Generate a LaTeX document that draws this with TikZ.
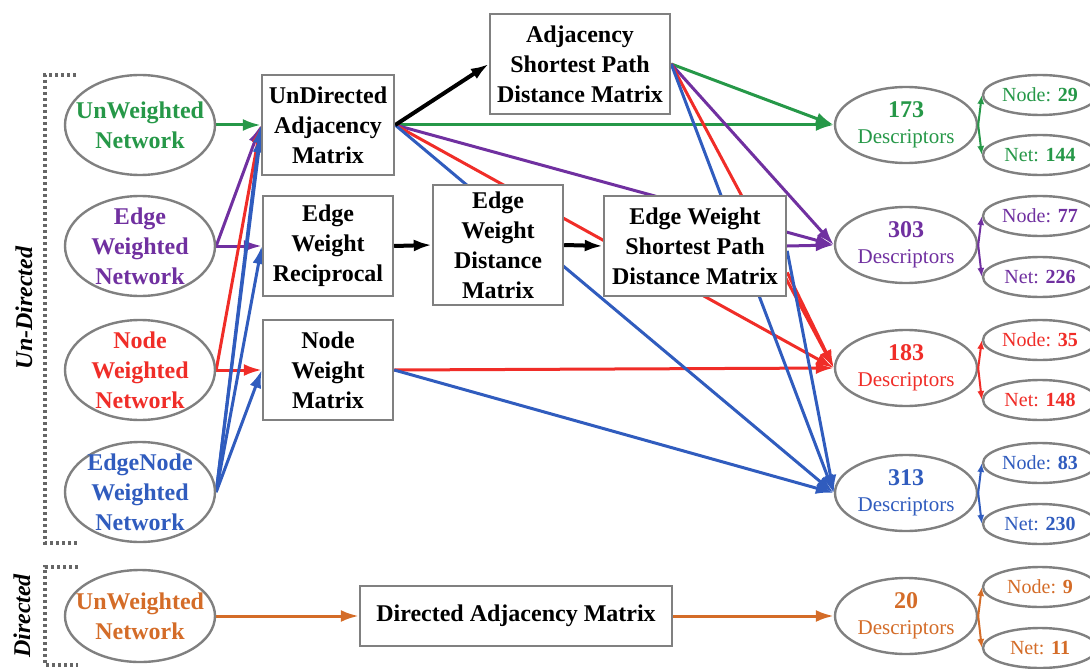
\documentclass[tikz,border=0pt]{standalone}
\usepackage{fontspec}
\setmainfont{Liberation Serif}
\usepackage{tikz}
\usetikzlibrary{shapes.geometric,arrows.meta,backgrounds}

\definecolor{cgreen}{RGB}{38,152,72}
\definecolor{cpurple}{RGB}{112,48,160}
\definecolor{cred}{RGB}{240,45,40}
\definecolor{cblue}{RGB}{48,92,190}
\definecolor{corange}{RGB}{212,108,40}
\definecolor{cgray}{RGB}{128,128,128}

\tikzset{
  mbox/.style={draw=cgray, line width=1.2pt, fill=white, align=center, inner sep=2pt,
    minimum width=65pt, minimum height=50pt, font=\bfseries\fontsize{12}{15}\selectfont},
  net/.style={ellipse, draw=cgray, line width=1.2pt, fill=white, inner sep=0pt,
    minimum width=75pt, minimum height=50pt},
  nettext/.style={align=center, inner sep=0pt, font=\bfseries\fontsize{12}{15}\selectfont},
  desc/.style={ellipse, draw=cgray, line width=1.2pt, fill=white, align=center, inner sep=0pt,
    minimum width=71pt, minimum height=38pt, font=\fontsize{10.5}{13}\selectfont},
  part/.style={ellipse, draw=cgray, line width=1.2pt, fill=white, inner sep=0pt,
    minimum width=57pt, minimum height=20pt, font=\fontsize{10}{12}\selectfont},
  link/.style={line width=1.5pt, -{Latex[length=9pt,width=6pt]}},
  split/.style={line width=1pt, -{Latex[length=4.5pt,width=3.5pt]}},
  side/.style={rotate=90, font=\bfseries\itshape\fontsize{12}{14}\selectfont},
  bracket/.style={black!60, line width=1.6pt, dash pattern=on 1.5pt off 1.5pt},
}

\begin{document}
\begin{tikzpicture}[x=0.5pt,y=-0.5pt]
\useasboundingbox (0,0) rectangle (1090,668);

% groups on the left
\node[side] (undirlbl) at (24,308) {Un-Directed};
\node[side] (dirlbl) at (22,616) {Directed};
\draw[bracket] (76,75) -- (45,75) -- (45,543) -- (78,543);
\draw[bracket] (78,567) -- (45,567) -- (45,665) -- (78,665);

% networks
\node[net] (un) at (140,125) {};
\node[nettext, text=cgreen] (untxt) at (un) {UnWeighted\\Network};
\node[net] (ew) at (140,246) {};
\node[nettext, text=cpurple] (ewtxt) at (ew) {Edge\\Weighted\\Network};
\node[net] (nw) at (140,370) {};
\node[nettext, text=cred] (nwtxt) at (nw) {Node\\Weighted\\Network};
\node[net] (en) at (140,492) {};
\node[nettext, text=cblue] (entxt) at (en) {EdgeNode\\Weighted\\Network};
\node[net, minimum height=46pt] (dun) at (140,616) {};
\node[nettext, text=corange] (duntxt) at (dun) {UnWeighted\\Network};

% matrices
\node[mbox, minimum width=66pt] (uda) at (328,125) {UnDirected\\Adjacency\\Matrix};
\node[mbox] (ewr) at (328,246) {Edge\\Weight\\Reciprocal};
\node[mbox] (nwm) at (328,370) {Node\\Weight\\Matrix};
\node[mbox, minimum width=90pt] (asp) at (580,64) {Adjacency\\Shortest Path\\Distance Matrix};
\node[mbox, minimum height=60pt] (ewdm) at (498,245) {Edge\\Weight\\Distance\\Matrix};
\node[mbox, minimum width=91pt] (ewsp) at (695,246) {Edge Weight\\Shortest Path\\Distance Matrix};
\node[mbox, minimum width=156pt, minimum height=30pt] (dam) at (516,616) {Directed Adjacency Matrix};

% descriptors
\node[desc, text=cgreen] (d173) at (906,125) {{\bfseries\fontsize{12}{13}\selectfont 173}\\Descriptors};
\node[desc, text=cpurple] (d303) at (906,245) {{\bfseries\fontsize{12}{13}\selectfont 303}\\Descriptors};
\node[desc, text=cred] (d183) at (906,368) {{\bfseries\fontsize{12}{13}\selectfont 183}\\Descriptors};
\node[desc, text=cblue] (d313) at (906,493) {{\bfseries\fontsize{12}{13}\selectfont 313}\\Descriptors};
\node[desc, text=corange] (d20) at (906,616) {{\bfseries\fontsize{12}{13}\selectfont 20}\\Descriptors};

\node[part, text=cgreen] (p29) at (1040,95) {Node: \textbf{29}};
\node[part, text=cgreen] (p144) at (1040,155) {Net: \textbf{144}};
\node[part, text=cpurple] (p77) at (1040,216) {Node: \textbf{77}};
\node[part, text=cpurple] (p226) at (1040,277) {Net: \textbf{226}};
\node[part, text=cred] (p35) at (1040,340) {Node: \textbf{35}};
\node[part, text=cred] (p148) at (1040,400) {Net: \textbf{148}};
\node[part, text=cblue] (p83) at (1040,463) {Node: \textbf{83}};
\node[part, text=cblue] (p230) at (1040,524) {Net: \textbf{230}};
\node[part, text=corange] (p9) at (1040,587) {Node: \textbf{9}};
\node[part, text=corange] (p11) at (1040,648) {Net: \textbf{11}};

\begin{scope}[on background layer]
% green
\draw[link, cgreen] (un.east) -- (uda.west);
\draw[link, cgreen] (uda.east) -- (d173.west);
\draw[link, cgreen] (asp.east) -- (d173.west);
% purple
\draw[link, cpurple] (ew.east) -- (uda.west);
\draw[link, cpurple] (ew.east) -- (ewr.west);
\draw[link, cpurple] (uda.east) -- (d303.west);
\draw[link, cpurple] (asp.east) -- (d303.west);
\draw[link, cpurple] (ewsp.east) -- (d303.west);
% red
\draw[link, cred] (nw.east) -- (uda.west);
\draw[link, cred] (nw.east) -- (nwm.west);
\draw[link, cred] (uda.east) -- (d183.west);
\draw[link, cred] (asp.east) -- (d183.west);
\draw[link, cred] (ewsp.-16) -- (d183.west);
\draw[link, cred] (nwm.east) -- (d183.west);
% blue
\draw[link, cblue] (en.east) -- (uda.west);
\draw[link, cblue] (en.east) -- (uda.188);
\draw[link, cblue] (en.east) -- (ewr.west);
\draw[link, cblue] (en.east) -- (nwm.west);
\draw[link, cblue] (uda.east) -- (d313.west);
\draw[link, cblue] (asp.east) -- (d313.west);
\draw[link, cblue] (ewsp.-3) -- (d313.west);
\draw[link, cblue] (nwm.east) -- (d313.west);
% black
\draw[link, line width=2pt] (uda.east) -- (asp.west);
\draw[link, line width=2pt] (ewr.east) -- (ewdm.west);
\draw[link, line width=2pt] (ewdm.east) -- (ewsp.west);
% orange
\draw[link, corange] (dun.east) -- (dam.west);
\draw[link, corange] (dam.east) -- (d20.west);
\end{scope}

% splits
\draw[split, cgreen] (d173.east) -- (p29.west);
\draw[split, cgreen] (d173.east) -- (p144.west);
\draw[split, cpurple] (d303.east) -- (p77.west);
\draw[split, cpurple] (d303.east) -- (p226.west);
\draw[split, cred] (d183.east) -- (p35.west);
\draw[split, cred] (d183.east) -- (p148.west);
\draw[split, cblue] (d313.east) -- (p83.west);
\draw[split, cblue] (d313.east) -- (p230.west);
\draw[split, corange] (d20.east) -- (p9.west);
\draw[split, corange] (d20.east) -- (p11.west);
\end{tikzpicture}
\end{document}
